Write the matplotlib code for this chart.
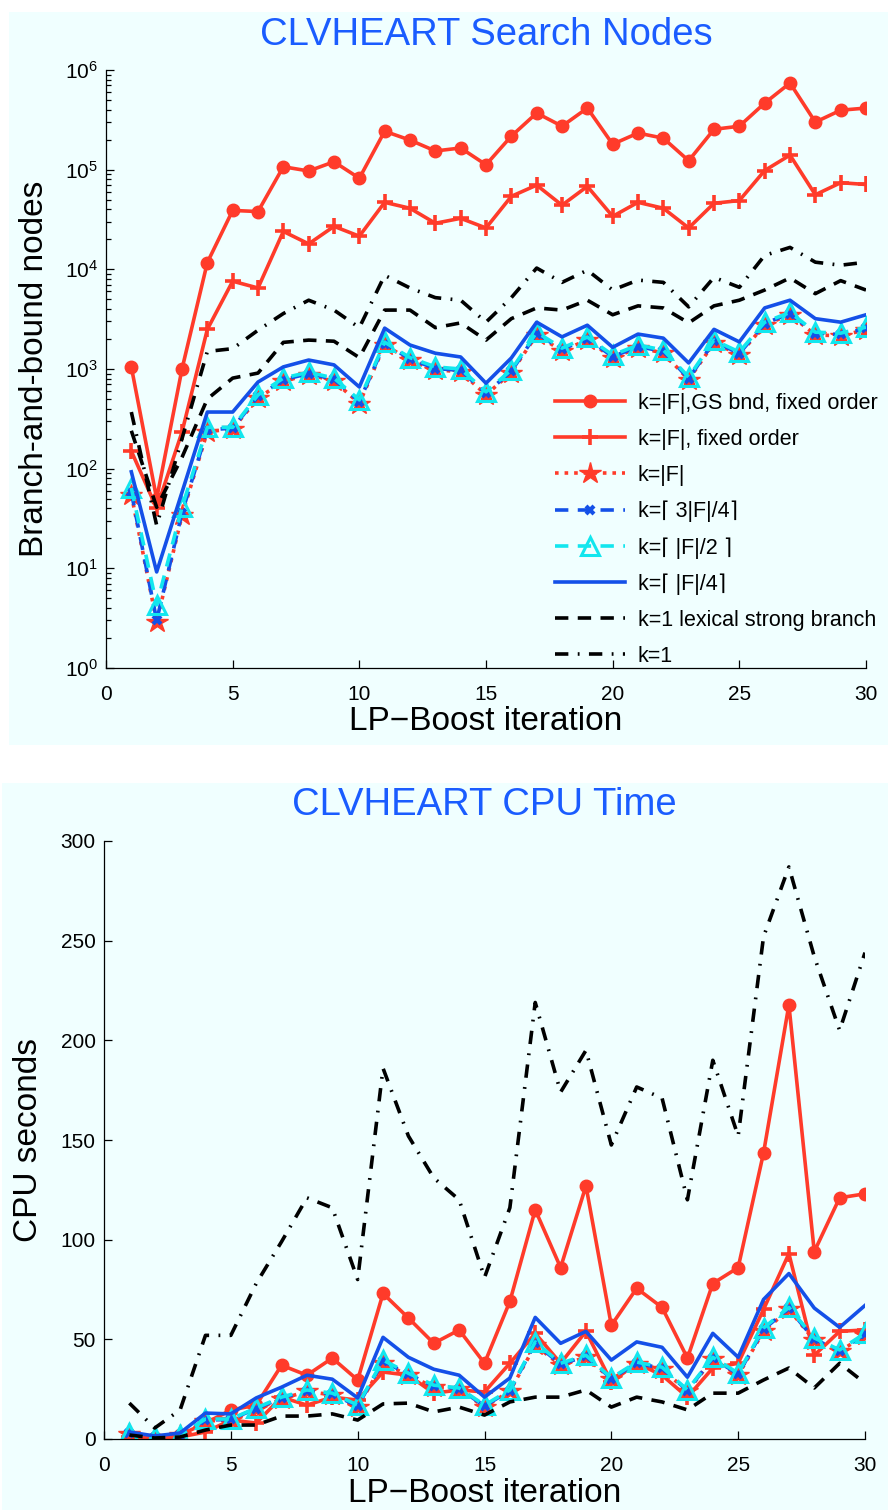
import matplotlib
matplotlib.use("Agg")
import matplotlib.pyplot as plt
from matplotlib.patches import Rectangle
from matplotlib.ticker import LogLocator, NullFormatter, FixedLocator

plt.rcParams['font.family'] = ['Liberation Sans', 'DejaVu Sans']
plt.rcParams['mathtext.fontset'] = 'custom'
plt.rcParams['mathtext.rm'] = 'Liberation Sans'
plt.rcParams['mathtext.it'] = 'Liberation Sans:italic'
plt.rcParams['axes.unicode_minus'] = True

# ---------------- data ----------------
iters = list(range(1, 31))

labels = ["k=|F|,GS bnd, fixed order", "k=|F|, fixed order", "k=|F|",
          "k=\u2308 3|F|/4\u2309", "k=\u2308 |F|/2 \u2309", "k=\u2308 |F|/4\u2309",
          "k=1 lexical strong branch", "k=1"]

# Search nodes (top panel)
nodes_gs_fixed = [1050, 50, 1000, 11700, 39000, 38000, 107000, 97000, 120000, 82000,
                  243000, 198000, 154000, 165000, 112000, 217000, 370000, 273000, 415000, 180000,
                  233000, 207000, 123000, 254000, 273000, 465000, 740000, 300000, 395000, 415000]
nodes_fixed = [150, 40, 233, 2500, 7600, 6500, 24000, 18000, 27000, 21500,
               47000, 41000, 29000, 32500, 26000, 54000, 70000, 44000, 68000, 34000,
               47000, 41000, 26000, 46000, 49000, 98000, 140000, 56000, 74000, 71000]
nodes_full = [55, 2.9, 34, 235, 250, 510, 750, 880, 760, 450,
              1750, 1220, 980, 940, 550, 920, 2200, 1520, 1960, 1290,
              1630, 1450, 780, 1830, 1390, 2780, 3500, 2200, 2150, 2480]
nodes_3q = [58, 3.0, 36, 245, 255, 530, 780, 900, 790, 470,
            1800, 1260, 1010, 970, 570, 950, 2270, 1570, 2020, 1330,
            1680, 1500, 800, 1890, 1430, 2860, 3600, 2270, 2220, 2550]
nodes_half = [64, 4.3, 41, 260, 260, 550, 810, 930, 810, 490,
              1860, 1300, 1050, 1000, 590, 980, 2340, 1620, 2090, 1380,
              1740, 1550, 830, 1950, 1480, 2950, 3700, 2340, 2290, 2630]
nodes_quarter = [93, 9.2, 58, 370, 370, 740, 1050, 1230, 1100, 660,
                 2570, 1740, 1440, 1320, 720, 1290, 2950, 2100, 2750, 1650,
                 2240, 2040, 1150, 2500, 1870, 4100, 4900, 3200, 2950, 3500]
nodes_lex = [240, 41, 130, 500, 810, 910, 1850, 1950, 1900, 1300,
             3900, 3900, 2600, 2900, 1950, 3200, 4100, 3900, 4900, 3500,
             4300, 4100, 2900, 4300, 4900, 6200, 8200, 5700, 7700, 6200]
nodes_k1 = [370, 27, 200, 1500, 1600, 2450, 3600, 4900, 3900, 2600,
            8700, 6500, 5200, 4900, 2950, 5200, 10300, 7400, 9800, 6200,
            7800, 7400, 4200, 8300, 6600, 13800, 16600, 11800, 11000, 11800]

# CPU seconds (bottom panel)
cpu_gs_fixed = [2, 0.5, 2, 8, 14.5, 17, 37, 32, 40.6, 29.6,
                73, 60.7, 48, 54.7, 38, 69, 115, 86, 127, 57,
                75.6, 66, 40.6, 78, 86, 143.5, 217.8, 94, 121, 123]
cpu_fixed = [1, 0.5, 1, 3.5, 9.5, 8, 21, 17, 21, 19.5,
             33.6, 32, 23, 24.6, 23.6, 38, 53, 38, 54, 28.6,
             38, 32, 21, 35.6, 38, 65, 93, 42, 54, 54.7]
cpu_full = [2.5, 0.8, 1.8, 9, 9.5, 15, 20, 24, 22, 16,
            38, 32, 26, 25, 16, 24, 47, 37, 41, 30,
            37.5, 35, 24, 40, 32, 54, 65, 49.5, 44, 52]
cpu_3q = [2.8, 0.9, 1.9, 9.5, 9.8, 15.3, 20.5, 24.3, 22.5, 16.5,
          39, 32.5, 26.5, 25.3, 16.5, 24.3, 48, 37.5, 41.5, 30.3,
          38, 35.5, 24.3, 40.5, 32.5, 55, 65.5, 50, 44.3, 52.5]
cpu_half = [3, 1, 2, 10, 10, 15.6, 21, 24.6, 23, 17,
            39.6, 33, 27, 25.6, 17, 24.6, 48.7, 38, 42, 30.6,
            38.6, 36, 24.6, 41, 33, 55.7, 66, 50.7, 44.7, 53]
cpu_quarter = [3.5, 1.5, 3, 13, 12.6, 20.6, 26, 32, 30, 20.6,
               51, 41, 35, 32, 21, 30.6, 61, 48, 54, 39.6,
               48.7, 46, 31, 53, 41, 70, 83, 65.7, 56, 67]
cpu_lex = [2, 0.5, 1, 4.5, 7, 7, 11.5, 11.5, 12.6, 9.5,
           17.6, 18, 13.6, 16, 12, 18.6, 21, 21, 24.6, 16,
           21, 18.6, 14.6, 23, 23, 29.6, 35.6, 25.6, 38, 28]
cpu_k1 = [18, 5.5, 14.6, 52, 52, 78, 99, 121, 116, 80,
          186, 152, 131, 120, 81, 116, 219, 174, 195, 147.5,
          176.6, 171, 120, 190, 152, 252, 287, 242, 205, 244]

# ---------------- styling ----------------
RED = '#FF3B2A'
BLUE = '#1450E8'
CYAN = '#12E6EE'
BG = '#F0FFFF'
TITLE = '#1A5CFF'
LW = 2.6

W, H = 888, 1510
fig = plt.figure(figsize=(W / 100, H / 100), dpi=100)
fig.patch.set_facecolor('white')

# panel backgrounds
fig.add_artist(Rectangle((9 / W, 1 - 745 / H), 879 / W, 733 / H, transform=fig.transFigure,
                         facecolor=BG, edgecolor='none', zorder=-10))
fig.add_artist(Rectangle((2 / W, 0), 886 / W, 727 / H, transform=fig.transFigure,
                         facecolor=BG, edgecolor='none', zorder=-10))

ax1 = fig.add_axes([106 / W, 1 - 668 / H, 760 / W, 598 / H])
ax2 = fig.add_axes([104 / W, 1 - 1439 / H, 761 / W, 598 / H])


def draw(ax, d):
    ax.plot(iters, d[0], color=RED, lw=LW, marker='o', ms=9, mfc=RED, mec=RED, label=labels[0])
    ax.plot(iters, d[1], color=RED, lw=LW, marker='+', ms=12, mew=2.6, label=labels[1])
    ax.plot(iters, d[2], color=RED, lw=LW, ls=':', marker='*', ms=16, mfc=RED, mec=RED, label=labels[2])
    ax.plot(iters, d[3], color=BLUE, lw=LW, ls=(0, (3.7, 2.6)), marker='x', ms=6, mew=3, label=labels[3])
    ax.plot(iters, d[4], color=CYAN, lw=LW, ls=(0, (3.7, 2.6)), marker='^', ms=13, mfc='none',
            mec=CYAN, mew=2.2, label=labels[4])
    ax.plot(iters, d[5], color=BLUE, lw=LW, label=labels[5])
    ax.plot(iters, d[6], color='black', lw=LW, ls=(0, (3.7, 2.6)), label=labels[6])
    ax.plot(iters, d[7], color='black', lw=LW, ls=(0, (3.7, 2.6, 0.5, 2.6)), label=labels[7])


draw(ax1, [nodes_gs_fixed, nodes_fixed, nodes_full, nodes_3q, nodes_half, nodes_quarter, nodes_lex, nodes_k1])
draw(ax2, [cpu_gs_fixed, cpu_fixed, cpu_full, cpu_3q, cpu_half, cpu_quarter, cpu_lex, cpu_k1])

for ax in (ax1, ax2):
    ax.set_facecolor(BG)
    ax.set_xlim(0, 30)
    ax.set_xticks([0, 5, 10, 15, 20, 25, 30])
    for s in ('top', 'right'):
        ax.spines[s].set_visible(False)
    for s in ('left', 'bottom'):
        ax.spines[s].set_linewidth(0.9)
    ax.tick_params(axis='both', which='major', direction='in', length=6, width=0.9,
                   labelsize=15, colors='black')
    ax.tick_params(axis='x', pad=12)
    ax.tick_params(axis='y', pad=6)

ax1.set_yscale('log')
ax1.set_ylim(1, 1e6)
ax1.yaxis.set_major_locator(LogLocator(base=10, numticks=10))
ax1.yaxis.set_minor_locator(LogLocator(base=10, subs=range(2, 10), numticks=100))
ax1.yaxis.set_minor_formatter(NullFormatter())
ax1.tick_params(axis='y', which='minor', direction='in', length=3.5, width=0.9)

ax2.set_ylim(0, 300)
ax2.set_yticks([0, 50, 100, 150, 200, 250, 300])

ax1.set_title('CLVHEART Search Nodes', color=TITLE, fontsize=27.5, y=1 + 35 / 598, va='center', pad=0)
ax2.set_title('CLVHEART CPU Time', color=TITLE, fontsize=27.5, y=1 + 36 / 598, va='center', pad=0)

ax1.set_xlabel('LP\u2212Boost iteration', fontsize=24, va='center')
ax1.xaxis.set_label_coords(0.5, (668 - 721) / 598)
ax2.set_xlabel('LP\u2212Boost iteration', fontsize=24, va='center')
ax2.xaxis.set_label_coords(0.5, (1439 - 1494) / 598)

ax1.set_ylabel('Branch-and-bound nodes', fontsize=24, va='center')
ax1.yaxis.set_label_coords((35 - 106) / 760, 0.5)
ax2.set_ylabel('CPU seconds', fontsize=24, va='center')
ax2.yaxis.set_label_coords((28 - 104) / 761, 0.5)

leg = ax1.legend(loc='upper left', bbox_to_anchor=((555 - 106) / 760, (668 - 393) / 598),
                 frameon=False, fontsize=15.5, handlelength=3.25, handletextpad=0.6,
                 labelspacing=0.69, borderpad=0, borderaxespad=0, numpoints=1)

fig.savefig('out.png', dpi=100, facecolor='white')
